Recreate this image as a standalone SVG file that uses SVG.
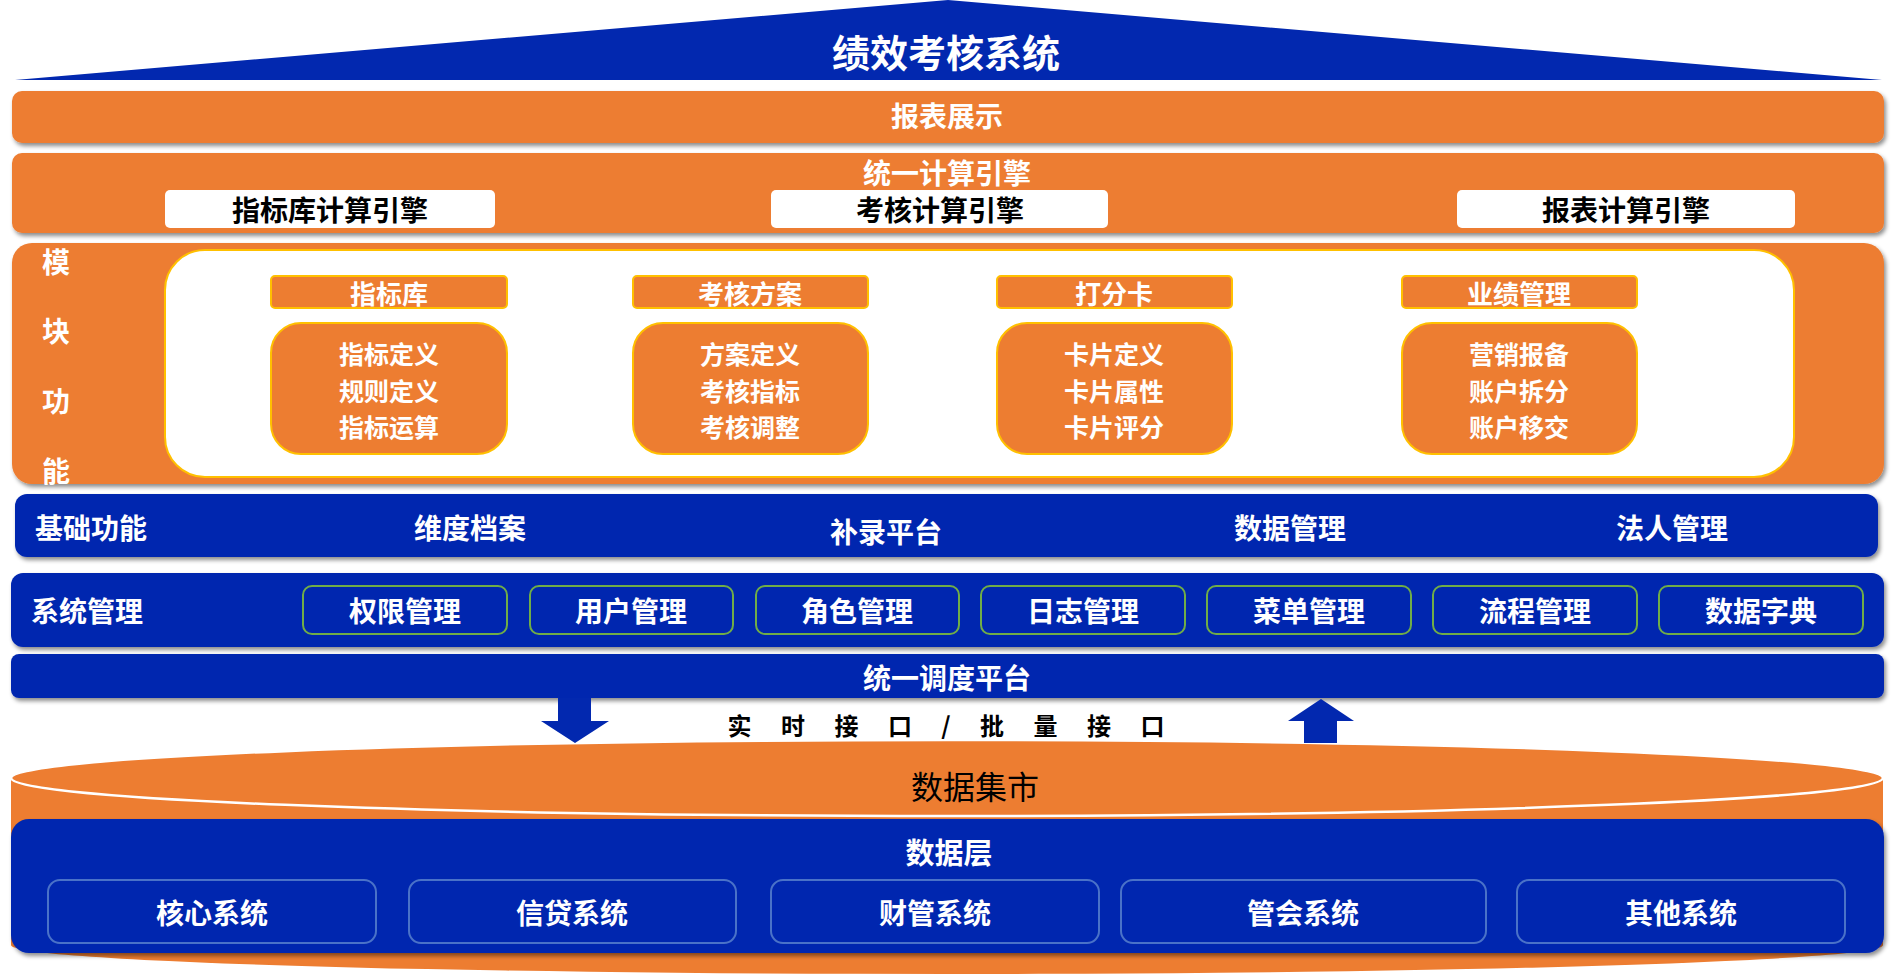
<svg xmlns="http://www.w3.org/2000/svg" width="1895" height="976" viewBox="0 0 1895 976">
<defs>
<filter id="sh" x="-5%" y="-20%" width="110%" height="150%">
<feDropShadow dx="2" dy="3" stdDeviation="2" flood-color="#000" flood-opacity="0.45"/>
</filter>
<style>
text{font-family:"Noto Sans CJK SC","Noto Sans",sans-serif;dominant-baseline:central;text-anchor:middle;}
.w{fill:#fff;font-weight:bold;font-size:28px;}
.k{fill:#000;font-weight:bold;font-size:28px;}
.ml{fill:#fff;font-weight:bold;font-size:25px;}
.or{fill:#ED7D31;}
.bl{fill:#0228AF;}
.mod{fill:#ED7D31;stroke:#FFC000;stroke-width:2;}
.gb{fill:none;stroke:#70AD47;stroke-width:2;}
.db{fill:none;stroke:#4A72C8;stroke-width:2;}
.wb{fill:#fff;}
</style>
</defs>
<rect width="1895" height="976" fill="#fff"/>

<g id="title">
<polygon points="15,80 948,0 1882,80" class="bl"/>
<text x="946" y="50" class="w" style="font-size:38px">绩效考核系统</text>
</g>

<g id="report">
<rect x="12" y="91" width="1872" height="52" rx="10" class="or" filter="url(#sh)"/>
<text x="947" y="115" class="w">报表展示</text>
</g>

<g id="engine">
<rect x="12" y="153" width="1872" height="80" rx="10" class="or" filter="url(#sh)"/>
<text x="947" y="172" class="w">统一计算引擎</text>
<g id="engine-idx"><rect x="165" y="190" width="330" height="38" rx="5" class="wb"/><text x="330" y="209" class="k">指标库计算引擎</text></g>
<g id="engine-kh"><rect x="771" y="190" width="337" height="38" rx="5" class="wb"/><text x="940" y="209" class="k">考核计算引擎</text></g>
<g id="engine-rep"><rect x="1457" y="190" width="338" height="38" rx="5" class="wb"/><text x="1626" y="209" class="k">报表计算引擎</text></g>
</g>

<g id="modules">
<rect x="12" y="243" width="1872" height="241" rx="20" class="or" filter="url(#sh)"/>
<rect x="165" y="250" width="1629" height="227" rx="40" fill="#fff" stroke="#FFC000" stroke-width="2"/>
<text x="56" y="261" class="w">模</text>
<text x="56" y="330" class="w">块</text>
<text x="56" y="400" class="w">功</text>
<text x="56" y="470" class="w">能</text>
<g id="m-zbk">
<rect x="271" y="276" width="236" height="32" rx="4" class="mod"/><text x="389" y="292" class="w" style="font-size:26px">指标库</text>
<rect x="271" y="323" width="236" height="131" rx="30" class="mod"/>
<text class="ml"><tspan x="389" y="353">指标定义</tspan><tspan x="389" y="389.5">规则定义</tspan><tspan x="389" y="426">指标运算</tspan></text>
</g>
<g id="m-khfa">
<rect x="633" y="276" width="235" height="32" rx="4" class="mod"/><text x="750" y="292" class="w" style="font-size:26px">考核方案</text>
<rect x="633" y="323" width="235" height="131" rx="30" class="mod"/>
<text class="ml"><tspan x="750" y="353">方案定义</tspan><tspan x="750" y="389.5">考核指标</tspan><tspan x="750" y="426">考核调整</tspan></text>
</g>
<g id="m-dfk">
<rect x="997" y="276" width="235" height="32" rx="4" class="mod"/><text x="1114" y="292" class="w" style="font-size:26px">打分卡</text>
<rect x="997" y="323" width="235" height="131" rx="30" class="mod"/>
<text class="ml"><tspan x="1114" y="353">卡片定义</tspan><tspan x="1114" y="389.5">卡片属性</tspan><tspan x="1114" y="426">卡片评分</tspan></text>
</g>
<g id="m-yjgl">
<rect x="1402" y="276" width="235" height="32" rx="4" class="mod"/><text x="1519" y="292" class="w" style="font-size:26px">业绩管理</text>
<rect x="1402" y="323" width="235" height="131" rx="30" class="mod"/>
<text class="ml"><tspan x="1519" y="353">营销报备</tspan><tspan x="1519" y="389.5">账户拆分</tspan><tspan x="1519" y="426">账户移交</tspan></text>
</g>
</g>

<g id="basic">
<rect x="15" y="494" width="1863" height="63" rx="12" class="bl" filter="url(#sh)"/>
<text x="91" y="527" class="w">基础功能</text>
<text x="470" y="527" class="w">维度档案</text>
<text x="886" y="531" class="w">补录平台</text>
<text x="1290" y="527" class="w">数据管理</text>
<text x="1672" y="527" class="w">法人管理</text>
</g>

<g id="sysmgmt">
<rect x="11" y="573" width="1873" height="74" rx="12" class="bl" filter="url(#sh)"/>
<text x="87" y="610" class="w">系统管理</text>
<g id="s1"><rect x="303" y="586" width="204" height="48" rx="9" class="gb"/><text x="405" y="610" class="w">权限管理</text></g>
<g id="s2"><rect x="530" y="586" width="203" height="48" rx="9" class="gb"/><text x="631" y="610" class="w">用户管理</text></g>
<g id="s3"><rect x="756" y="586" width="203" height="48" rx="9" class="gb"/><text x="857" y="610" class="w">角色管理</text></g>
<g id="s4"><rect x="981" y="586" width="204" height="48" rx="9" class="gb"/><text x="1083" y="610" class="w">日志管理</text></g>
<g id="s5"><rect x="1207" y="586" width="204" height="48" rx="9" class="gb"/><text x="1309" y="610" class="w">菜单管理</text></g>
<g id="s6"><rect x="1433" y="586" width="204" height="48" rx="9" class="gb"/><text x="1535" y="610" class="w">流程管理</text></g>
<g id="s7"><rect x="1659" y="586" width="204" height="48" rx="9" class="gb"/><text x="1761" y="610" class="w">数据字典</text></g>
</g>

<g id="schedule">
<rect x="11" y="654" width="1873" height="44" rx="8" class="bl" filter="url(#sh)"/>
<text x="947" y="677" class="w">统一调度平台</text>
</g>

<g id="datamart">
<path d="M11,778 L11,945 A936,29 0 0 0 1883,945 L1883,778 Z" class="or"/>
<ellipse cx="947" cy="778" rx="936" ry="38" class="or" stroke="#fff" stroke-width="2.5"/>
<text x="975" y="785" style="font-size:32px;fill:#000">数据集市</text>
</g>

<g id="datalayer">
<rect x="11" y="819" width="1873" height="134" rx="18" class="bl" filter="url(#sh)"/>
<text x="949" y="851" class="w" style="font-size:29px">数据层</text>
<g id="d1"><rect x="48" y="880" width="328" height="63" rx="12" class="db"/><text x="212" y="912" class="w">核心系统</text></g>
<g id="d2"><rect x="409" y="880" width="327" height="63" rx="12" class="db"/><text x="572" y="912" class="w">信贷系统</text></g>
<g id="d3"><rect x="771" y="880" width="328" height="63" rx="12" class="db"/><text x="935" y="912" class="w">财管系统</text></g>
<g id="d4"><rect x="1121" y="880" width="365" height="63" rx="12" class="db"/><text x="1303" y="912" class="w">管会系统</text></g>
<g id="d5"><rect x="1517" y="880" width="328" height="63" rx="12" class="db"/><text x="1681" y="912" class="w">其他系统</text></g>
</g>

<g id="connectors">
<polygon points="558,698 591,698 591,721 609,721 575,743 541,721 558,721" class="bl"/>
<polygon points="1321,699 1354,721 1337,721 1337,743 1304,743 1304,721 1288,721" class="bl"/>
<text x="952" y="724" class="k" style="font-size:24px;letter-spacing:12px">实 时 接 口 / 批 量 接 口</text>
</g>
</svg>
